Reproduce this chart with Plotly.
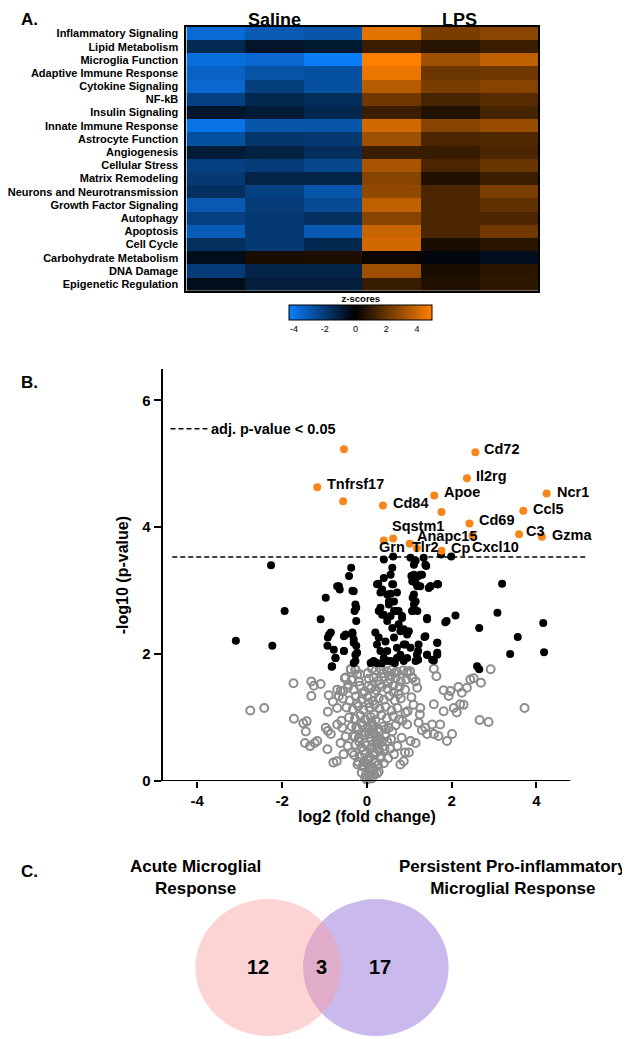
import plotly.graph_objects as go

W, H = 630, 1039
FONT = "Liberation Sans, Arial, sans-serif"

# ---------------- Panel A data (z-scores) ----------------
pathways = [
    "Inflammatory Signaling", "Lipid Metabolism", "Microglia Function",
    "Adaptive Immune Response", "Cytokine Signaling", "NF-kB", "Insulin Signaling",
    "Innate Immune Response", "Astrocyte Function", "Angiogenesis", "Cellular Stress",
    "Matrix Remodeling", "Neurons and Neurotransmission", "Growth Factor Signaling",
    "Autophagy", "Apoptosis", "Cell Cycle", "Carbohydrate Metabolism", "DNA Damage",
    "Epigenetic Regulation",
]
group_labels = ["Saline", "LPS"]
saline_1 = [-3.6, -1.4, -3.7, -3.3, -3.5, -2.2, -0.7, -3.9, -2.7, -0.95, -2.2, -1.9, -1.6, -3.0, -2.2, -3.1, -1.6, -0.45, -2.0, -0.45]
saline_2 = [-3.0, -0.7, -3.5, -2.8, -2.1, -1.35, -0.9, -2.9, -1.8, -1.1, -2.0, -1.2, -2.2, -2.0, -1.9, -1.9, -1.9, 0.5, -1.2, -1.0]
saline_3 = [-2.9, -0.85, -4.2, -2.7, -2.7, -1.5, -1.35, -2.9, -1.9, -1.55, -2.4, -1.2, -2.9, -2.5, -1.6, -3.0, -1.35, 0.55, -1.2, -1.0]
lps_1 = [4.5, 1.15, 5.0, 4.6, 3.6, 2.2, 1.15, 4.1, 3.1, 1.15, 3.3, 2.65, 2.85, 3.75, 2.65, 3.95, 4.1, 0.2, 3.1, 1.1]
lps_2 = [2.4, 0.75, 3.1, 2.1, 2.4, 1.4, 0.65, 2.65, 1.45, 1.1, 1.45, 0.65, 1.45, 1.45, 1.45, 1.45, 0.5, -0.2, 0.5, 0.6]
lps_3 = [2.7, 1.15, 3.75, 2.2, 2.65, 1.7, 1.4, 3.0, 1.55, 1.45, 2.05, 1.15, 2.4, 1.9, 1.5, 2.2, 0.8, -0.5, 0.8, 0.9]
zscore_ticks = [-4, -2, 0, 2, 4]
zscore_ticktext = ["-4", "-2", "0", "2", "4"]
zscore_min, zscore_max = -4.3, 5.0

# ---------------- Panel B data (volcano) ----------------
adj_p_threshold = 3.53
fc_ticks = [-4, -2, 0, 2, 4]
fc_ticktext = ["-4", "-2", "0", "2", "4"]
p_ticks = [0, 2, 4, 6]
sig_genes = ["Cd72", "Il2rg", "Tnfrsf17", "Ncr1", "Apoe", "Cd84", "Ccl5", "Cd69", "C3",
             "Gzma", "Sqstm1", "Anapc15", "Grn", "Tlr2", "Cp", "Cxcl10", "", "", ""]
sig_log2fc = [2.56, 2.36, -1.17, 4.24, 1.59, 0.38, 3.69, 2.42, 3.59,
              4.13, 0.62, 1.01, 0.40, 1.18, 1.76, 2.49, -0.54, -0.56, 1.76]
sig_logp = [5.18, 4.77, 4.63, 4.53, 4.50, 4.34, 4.26, 4.06, 3.89,
            3.85, 3.82, 3.74, 3.79, 3.67, 3.63, 3.87, 5.23, 4.41, 4.24]

nominal_log2fc = [
    -2.26, -0.37, -0.42, -0.70, -0.64, -0.97, -0.34, -0.27, -0.29, -1.94, -1.09, -0.25,
    -3.09, -2.23, -0.85, -0.92, -0.78, -0.74, -0.83, -0.54, -0.54, -0.34, -0.31, -0.25,
    -0.23, -0.27, 0.40, 0.62, 0.60, 1.03, 1.15, 1.34, 1.40, 1.75, 1.99, 1.05, 1.11, 1.26,
    1.07, 1.15, 1.50, 1.67, 0.27, 0.62, -0.66, -0.31, 0.36, 0.56, 1.08,
    1.46, 1.68, 1.42, 1.66, 1.66, 1.58, 1.42, 1.36, 1.21, 1.21, 2.09, 1.85, 2.65, 2.65,
    3.19, 3.08, 3.56, 3.38, 4.16, 4.18,
    -0.89, -0.93, -0.74, -0.82, -0.50, -0.54, -0.34, -0.31, -0.27, -0.31, -0.25,
    0.20, 0.24, 0.32, 0.40, 0.16, 0.32, 0.40, 0.52, 0.48, 0.60, 0.64, 0.71, 0.79, 0.87,
    0.56, 0.75, 0.83, 0.79, 0.95, 1.07, 1.03, 1.15, 0.44, 0.48, 0.28, 0.64, 0.87,
    1.22, 1.18, 1.42, 1.38, 1.42, 1.54, 1.66, 1.66, 1.88, 2.60,
    0.24, 0.40, 0.56, 0.60, 0.71, 0.32, 0.48, 0.52, 0.64, 0.28, 0.36, 0.56, 0.71, 0.83,
    0.75, 0.87, 0.99, 1.11, 1.07, 1.15, 1.22, 1.30, 1.19, 1.11, 1.15, 1.07, 1.19, 1.26,
    1.38, 1.50, 1.66, 1.11, 0.91, 0.95, 0.71, 0.48, 0.24, 0.09, 0.13, 0.35, 0.66,
]
nominal_logp = [
    3.40, 3.36, 3.23, 3.07, 3.02, 2.89, 3.00, 2.78, 2.68, 2.68, 2.55, 2.52,
    2.21, 2.13, 2.34, 2.26, 2.07, 1.94, 1.80, 2.28, 2.05, 2.34, 2.23, 2.13,
    2.02, 1.89, 3.49, 3.54, 3.36, 3.52, 3.47, 3.52, 3.39, 3.57, 3.54, 3.23, 3.25, 3.25,
    3.15, 3.12, 3.07, 3.10, 3.11, 3.10, 3.07, 2.99, 3.02, 2.95, 2.89,
    3.04, 3.10, 2.55, 2.18, 2.02, 1.90, 1.99, 2.27, 2.05, 1.91, 2.61, 2.50, 2.41, 1.76,
    3.11, 2.65, 2.27, 2.00, 2.49, 2.03,
    2.31, 2.13, 1.94, 1.81, 2.31, 2.05, 2.31, 2.18, 1.99, 1.86, 2.73,
    2.34, 2.15, 2.05, 1.94, 1.89, 2.73, 2.62, 2.78, 2.52, 2.41, 2.26, 2.10, 1.99, 1.89,
    1.89, 2.68, 2.57, 2.36, 2.31, 2.68, 2.10, 1.89, 2.20, 2.05, 2.26, 2.68, 2.15,
    2.15, 1.99, 2.57, 2.28, 1.99, 1.91, 2.18, 1.99, 2.52, 1.81,
    3.10, 3.20, 3.25, 3.10, 2.97, 2.97, 2.94, 2.83, 2.83, 2.68, 2.62, 2.60, 2.68, 2.60,
    2.47, 2.39, 2.36, 3.41, 3.23, 3.20, 3.23, 3.25, 3.07, 2.94, 2.83, 2.68, 2.68, 3.07,
    3.41, 3.07, 3.10, 2.78, 2.15, 1.94, 1.94, 1.89, 1.86, 1.86, 1.87, 1.85, 1.86,
]

ns_log2fc = [
    -2.75, -2.42, -1.73, -1.72, -1.50, -1.42, -1.44, -1.46, -1.34, -1.23, -1.17,
    -1.31, -1.25, -1.09, -1.31, -0.92, -0.97, -0.92, -0.85, -0.93, -0.70, -0.58, -0.62,
    -0.71, -0.79, -0.70, -0.56, -0.66, -0.50, -0.35, -0.23, -0.38, -0.27,
    1.58, 1.64, 1.81, 1.97, 1.93, 2.16, 2.24, 2.36, 2.44, 2.52, 2.69, 2.92,
    2.05, 2.12, 2.20, 2.28, 1.58, 1.81, 1.73, 1.54, 1.38, 1.42, 1.58, 1.69, 2.01, 1.89,
    2.66, 2.87, 3.72, 1.22, 1.26, 1.19, 1.15, 1.07, 0.96, 0.95, 0.91, 1.03, 1.15, 0.99,
    0.87, 0.79,
    -0.38, -0.27, 0.12, 0.21, 0.33, 0.47, 0.58, 0.71, 0.86, 1.02,
    -0.52, -0.36, -0.19, 0.05, 0.16, 0.27, 0.41, 0.55, 0.68, 0.80, 0.93,
    -0.62, -0.45, -0.31, -0.17, -0.05, 0.10, 0.22, 0.35, 0.49, 0.63, 0.77, 0.90,
    -0.57, -0.40, -0.26, -0.12, 0.02, 0.14, 0.28, 0.40, 0.53, 0.66, 0.80, 1.05,
    -0.48, -0.33, -0.20, -0.08, 0.06, 0.18, 0.30, 0.44, 0.58, 0.72,
    -0.42, -0.28, -0.15, -0.04, 0.09, 0.20, 0.34, 0.47, 0.62, 0.76,
    -0.36, -0.22, -0.10, 0.03, 0.15, 0.27, 0.39, 0.52, 0.68,
    -0.33, -0.19, -0.06, 0.07, 0.19, 0.31, 0.44, 0.57,
    -0.45, -0.27, -0.13, 0.00, 0.12, 0.25, 0.38, 0.55,
    -0.30, -0.16, -0.04, 0.08, 0.20, 0.33, 0.50,
    -0.22, -0.10, 0.02, 0.13, 0.26, 0.40,
    -0.12, -0.02, 0.07, 0.17, 0.28,
    0.00, 0.06, 0.12,
    0.11, 0.18, 0.24, -0.02, 0.04, 0.29, 0.09, 0.15, 0.22, 0.05,
    -0.25, -0.18, -0.08, 0.01, 0.10, 0.16, 0.22, 0.30, -0.14, 0.05, 0.12, -0.05, 0.27,
    0.35, -0.20, 0.19, 0.04, -0.07, 0.24, 0.31, 0.42, 0.45, -0.28, -0.35, 0.48, 0.60,
    0.64, 0.72, 0.82, 0.90, -0.55, -0.50, -0.60, -0.70, -0.80, -0.90, 0.84, 0.96, 1.10,
    1.25, 1.30, -0.24, -0.10, 0.04, 0.18, 0.30, 0.50, 0.62, 0.75, -0.44, -0.16, 0.02,
    0.38, 0.52, 0.65, 0.95, 1.08, 0.08, 0.14, -0.04,
]
ns_logp = [
    1.11, 1.15, 1.54, 0.98, 0.91, 0.94, 0.78, 0.60, 0.55, 0.60, 0.63,
    1.57, 1.50, 1.53, 1.34, 1.09, 0.84, 0.79, 0.74, 0.50, 0.89, 0.84, 0.60,
    0.31, 0.29, 1.44, 1.42, 1.34, 1.63, 1.60, 1.68, 1.76, 1.76,
    1.77, 1.65, 1.43, 1.42, 1.34, 1.48, 1.39, 1.47, 1.60, 1.62, 1.55, 1.76,
    1.15, 1.08, 1.21, 1.20, 1.21, 1.10, 0.89, 0.89, 0.84, 0.74, 0.74, 0.71, 0.74, 0.63,
    0.96, 0.93, 1.15, 0.92, 1.15, 1.47, 1.57, 1.63, 1.73, 0.89, 1.08, 0.63, 0.60, 0.45,
    0.31, 0.26,
    1.76, 1.75, 1.77, 1.74, 1.76, 1.73, 1.75, 1.72, 1.74, 1.73,
    1.62, 1.59, 1.57, 1.61, 1.63, 1.58, 1.64, 1.60, 1.62, 1.57, 1.60,
    1.42, 1.47, 1.44, 1.50, 1.41, 1.46, 1.43, 1.49, 1.45, 1.40, 1.48, 1.44,
    1.30, 1.27, 1.33, 1.29, 1.32, 1.26, 1.31, 1.28, 1.34, 1.27, 1.30, 1.32,
    1.16, 1.13, 1.18, 1.12, 1.16, 1.20, 1.14, 1.17, 1.11, 1.15,
    1.00, 0.98, 1.03, 0.97, 1.01, 0.96, 1.04, 0.99, 1.02, 0.97,
    0.86, 0.83, 0.88, 0.84, 0.87, 0.82, 0.86, 0.84, 0.88,
    0.71, 0.68, 0.72, 0.69, 0.73, 0.67, 0.71, 0.66,
    0.55, 0.57, 0.53, 0.56, 0.52, 0.58, 0.54, 0.51,
    0.41, 0.38, 0.42, 0.37, 0.43, 0.39, 0.36,
    0.26, 0.23, 0.27, 0.22, 0.25, 0.28,
    0.13, 0.10, 0.14, 0.11, 0.15,
    0.02, 0.05, 0.04,
    0.92, 1.05, 0.64, 0.76, 0.35, 0.48, 0.19, 0.81, 0.58, 1.23,
    0.85, 0.62, 0.48, 0.33, 0.20, 0.45, 0.66, 0.78, 0.92, 0.74, 0.88, 0.60, 0.50,
    0.62, 0.30, 0.30, 0.18, 0.30, 0.12, 0.36, 0.50, 0.82, 0.70, 0.45, 0.62, 0.78,
    0.42, 0.55, 0.68, 0.45, 0.42, 0.70, 0.95, 1.15, 1.25, 1.35, 0.95, 1.10, 1.20,
    1.05, 0.80, 1.22, 1.38, 1.50, 1.38, 1.52, 1.55, 1.50, 1.37, 1.52, 1.68, 1.70,
    1.70, 1.66, 1.70, 1.70, 1.62, 0.08, 0.16, 0.05,
]

# ---------------- Panel C data (Venn) ----------------
venn_titles = ["Acute Microglial<br>Response", "Persistent Pro-inflammatory<br>Microglial Response"]
venn_counts = [12, 3, 17]   # acute only, shared, persistent only

# ---------------- helpers / styling ----------------
def fx(p):
    return p / W

def fy(p):
    return 1 - p / H

def bold(size):
    return dict(family=FONT, size=size, color="black", weight="bold")

orange = "#f7861c"
label_dx = [7, 7, 8, 8, 8, 8, 8, 8, 5, 8, -3, 5, -7, -7, 8, -2, 0, 0, 0]
label_dy = [3, 2, 3, 2, 3, 3, 2, 3, 3, 2, 13, 8, -6, 1, 3, -12, 0, 0, 0]

fig = go.Figure()

# Heatmap
columns = [saline_1, saline_2, saline_3, lps_1, lps_2, lps_3]
z = [[col[i] for col in columns] for i in range(len(pathways))]
fig.add_trace(go.Heatmap(
    z=z, x=list(range(6)), y=pathways, xaxis="x", yaxis="y",
    zmin=zscore_min, zmax=zscore_max,
    colorscale=[[0, "#0a80ff"], [(-zscore_min) / (zscore_max - zscore_min), "#000000"], [1, "#ff8000"]],
    colorbar=dict(
        orientation="h", x=fx(352), xanchor="center", y=fy(288), yanchor="top",
        len=143, lenmode="pixels", thickness=15, thicknessmode="pixels",
        xpad=0, ypad=0, outlinecolor="black", outlinewidth=1,
        tickvals=zscore_ticks, ticktext=zscore_ticktext, ticks="",
        tickfont=dict(family=FONT, size=9, color="black"),
        title=dict(text="z-scores", side="top", font=bold(9.5)),
    ),
    hoverinfo="skip",
))

# Volcano
fig.add_trace(go.Scatter(
    x=ns_log2fc, y=ns_logp, mode="markers", xaxis="x2", yaxis="y2",
    marker=dict(symbol="circle-open", size=8, color="#8c8c8c", line=dict(width=2, color="#8c8c8c")),
    cliponaxis=False, hoverinfo="skip", showlegend=False,
))
fig.add_trace(go.Scatter(
    x=nominal_log2fc, y=nominal_logp, mode="markers", xaxis="x2", yaxis="y2",
    marker=dict(size=8, color="black"), cliponaxis=False, hoverinfo="skip", showlegend=False,
))
fig.add_trace(go.Scatter(
    x=sig_log2fc, y=sig_logp, mode="markers", xaxis="x2", yaxis="y2",
    marker=dict(size=8, color=orange), cliponaxis=False, hoverinfo="skip", showlegend=False,
))

annotations = []
shapes = []

# panel letters
for letter, ypix in [("A.", 12), ("B.", 377), ("C.", 870)]:
    annotations.append(dict(text=letter, x=fx(9), y=fy(ypix), xref="paper", yref="paper",
                            xanchor="left", yanchor="middle", showarrow=False, font=bold(17)))

# heatmap group headers
for gx, g in zip([1.0, 4.15], group_labels):
    annotations.append(dict(text=g, x=gx, y=fy(12), xref="x", yref="paper",
                            xanchor="center", yanchor="middle", showarrow=False, font=bold(18)))

# gene labels
for g, xv, yv, dx, dy in zip(sig_genes, sig_log2fc, sig_logp, label_dx, label_dy):
    if g:
        annotations.append(dict(text=g, x=xv, y=yv, xref="x2", yref="y2", xanchor="left",
                                yanchor="middle", xshift=dx, yshift=dy, showarrow=False,
                                font=bold(14.5)))

# threshold line + legend
shapes.append(dict(type="line", xref="x2", yref="y2", x0=-4.59, x1=5.22,
                   y0=adj_p_threshold, y1=adj_p_threshold,
                   line=dict(color="black", width=1.6, dash="5px,3px")))
shapes.append(dict(type="line", xref="paper", yref="paper", x0=fx(161), x1=fx(198),
                   y0=fy(424), y1=fy(424), line=dict(color="black", width=1.6, dash="5px,3px")))
annotations.append(dict(text="adj. p-value < 0.05", x=fx(200), y=fy(424), xref="paper", yref="paper",
                        xanchor="left", yanchor="middle", showarrow=False, font=bold(14.5)))
# x baseline of volcano
shapes.append(dict(type="line", xref="x2", yref="y2", x0=-4.82, x1=4.8, y0=0, y1=0,
                   line=dict(color="black", width=2)))
annotations.append(dict(text="log2 (fold change)", x=0, y=fy(815), xref="x2", yref="paper",
                        xanchor="center", yanchor="middle", showarrow=False, font=bold(16)))

# Venn
shapes.append(dict(type="circle", xref="paper", yref="paper", x0=fx(294), x1=fx(440),
                   y0=fy(1036), y1=fy(898), fillcolor="rgba(150,115,220,0.5)", line=dict(width=0)))
shapes.append(dict(type="circle", xref="paper", yref="paper", x0=fx(186), x1=fx(332),
                   y0=fy(1036), y1=fy(898), fillcolor="rgba(248,160,160,0.45)", line=dict(width=0)))
for cnt, xp in zip(venn_counts, [249, 312, 371]):
    annotations.append(dict(text=str(cnt), x=fx(xp), y=fy(966), xref="paper", yref="paper",
                            xanchor="center", yanchor="middle", showarrow=False, font=bold(20)))
for t, xp in zip(venn_titles, [186, 505]):
    annotations.append(dict(text=t, x=fx(xp), y=fy(876), xref="paper", yref="paper",
                            xanchor="center", yanchor="middle", showarrow=False, font=bold(17)))

fig.update_layout(
    width=W, height=H, margin=dict(l=0, r=0, t=0, b=0),
    paper_bgcolor="white", plot_bgcolor="white", showlegend=False,
    font=dict(family=FONT, color="black"),
    xaxis=dict(domain=[fx(177), fx(530)], range=[-0.5, 5.5], anchor="y",
               showticklabels=False, ticks="", showgrid=False, zeroline=False,
               showline=True, mirror=True, linecolor="black", linewidth=2),
    yaxis=dict(domain=[fy(285), fy(19)], autorange="reversed", anchor="x",
               showgrid=False, zeroline=False, showline=True, mirror=True,
               linecolor="black", linewidth=2, ticks="outside", ticklen=4,
               tickcolor="rgba(0,0,0,0)", tickfont=bold(11)),
    xaxis2=dict(domain=[fx(153), fx(580)], range=[-4.82, 5.22], anchor="y2",
                tickvals=fc_ticks, ticktext=fc_ticktext, ticks="outside", ticklen=6, tickwidth=2,
                tickcolor="black", tickfont=bold(15), showline=False, showgrid=False,
                zeroline=False),
    yaxis2=dict(domain=[fy(779), fy(364)], range=[0, 6.49], anchor="x2",
                tickvals=p_ticks, ticks="outside", ticklen=7, tickwidth=2,
                tickcolor="black", tickfont=bold(15), showline=True, linewidth=2,
                linecolor="black", showgrid=False, zeroline=False,
                title=dict(text="-log10 (p-value)", font=bold(16), standoff=10)),
    annotations=annotations, shapes=shapes,
)

fig.write_html("out.html")
